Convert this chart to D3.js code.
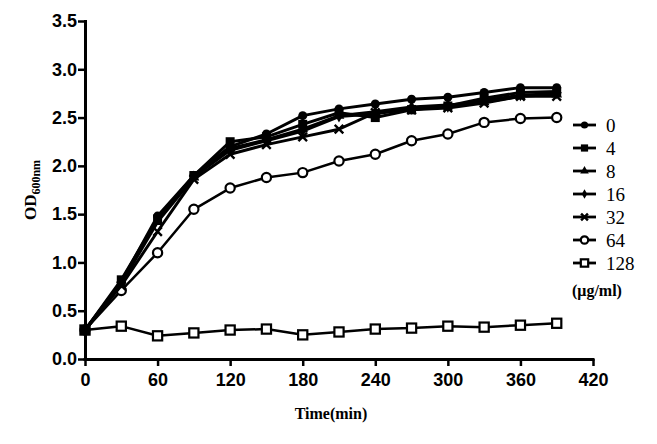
<!DOCTYPE html>
<html><head><meta charset="utf-8">
<script src="https://cdn.jsdelivr.net/npm/d3@7"></script>
<style>body{margin:0;background:#fff}</style>
</head><body>
<svg id="c" width="657" height="444"></svg>
<script>
const times = [0,30,60,90,120,150,180,210,240,270,300,330,360,390];
const concentrations = ["0","4","8","16","32","64","128"];
const s0   = [0.30,0.80,1.48,1.90,2.20,2.33,2.52,2.59,2.64,2.69,2.71,2.76,2.81,2.81];
const s4   = [0.30,0.82,1.45,1.90,2.25,2.30,2.43,2.55,2.50,2.58,2.62,2.70,2.76,2.77];
const s8   = [0.30,0.78,1.42,1.88,2.18,2.27,2.38,2.52,2.56,2.61,2.63,2.66,2.72,2.74];
const s16  = [0.30,0.79,1.45,1.89,2.16,2.26,2.36,2.51,2.54,2.59,2.61,2.68,2.73,2.75];
const s32  = [0.30,0.76,1.32,1.86,2.12,2.22,2.30,2.38,2.55,2.58,2.60,2.65,2.72,2.72];
const s64  = [0.30,0.71,1.10,1.55,1.77,1.88,1.93,2.05,2.12,2.26,2.33,2.45,2.49,2.50];
const s128 = [0.30,0.34,0.24,0.27,0.30,0.31,0.25,0.28,0.31,0.32,0.34,0.33,0.35,0.37];
const xTicks = [0,60,120,180,240,300,360,420];
const yTicks = [0.0,0.5,1.0,1.5,2.0,2.5,3.0,3.5];

const series = [s0,s4,s8,s16,s32,s64,s128];
const markers = ["fcircle","fsquare","ftriangle","fdiamond","cross","ocircle","osquare"];

const svg = d3.select("#c");
const x = d3.scaleLinear().domain([0,420]).range([85,593]);
const y = d3.scaleLinear().domain([0,3.5]).range([359,21]);

function drawMarker(g, type, cx, cy, s) {
  s = s || 1;
  if (type==="fcircle") g.append("circle").attr("cx",cx).attr("cy",cy).attr("r",4.5*s).attr("fill","#000");
  else if (type==="fsquare") g.append("rect").attr("x",cx-4.5*s).attr("y",cy-4.5*s).attr("width",9*s).attr("height",9*s).attr("fill","#000");
  else if (type==="ftriangle") g.append("path").attr("d",d3.symbol(d3.symbolTriangle, 50*s*s)()).attr("transform",`translate(${cx},${cy})`).attr("fill","#000");
  else if (type==="fdiamond") g.append("path").attr("d",d3.symbol(d3.symbolDiamond, 40*s*s)()).attr("transform",`translate(${cx},${cy})`).attr("fill","#000");
  else if (type==="cross") g.append("path").attr("d",d3.symbol(d3.symbolX, 50*s*s)()).attr("transform",`translate(${cx},${cy})`).attr("fill","none").attr("stroke","#000").attr("stroke-width",2.4);
  else if (type==="ocircle") g.append("circle").attr("cx",cx).attr("cy",cy).attr("r",4.6*s).attr("fill","#fff").attr("stroke","#000").attr("stroke-width",2.2);
  else if (type==="osquare") g.append("rect").attr("x",cx-4.6*s).attr("y",cy-4.6*s).attr("width",9.2*s).attr("height",9.2*s).attr("fill","#fff").attr("stroke","#000").attr("stroke-width",2.2);
}

const line = d3.line().x((d,i)=>x(times[i])).y(d=>y(d));
const order = [6,5,4,3,2,1,0];
order.forEach(k=>{
  const g = svg.append("g");
  g.append("path").datum(series[k]).attr("d",line).attr("fill","none")
    .attr("stroke","#000").attr("stroke-width", k>=5 ? 2.5 : 3).attr("stroke-linejoin","round");
  series[k].forEach((v,i)=>drawMarker(g, markers[k], x(times[i]), y(v)));
});

// axes
const ax = svg.append("g").attr("transform","translate(0,359)")
  .call(d3.axisBottom(x).tickValues(xTicks).tickSize(7).tickSizeOuter(0).tickFormat(d3.format("d")));
ax.select(".domain").attr("stroke-width",3).attr("d","M83.5,0.5H594.5");
ax.selectAll(".tick line").attr("stroke-width",2.5);
ax.selectAll(".tick text").attr("font-family","Liberation Sans, Arial, sans-serif").attr("font-weight","bold")
  .attr("font-size",18).attr("fill","#000").attr("dy","0.95em");

const ay = svg.append("g").attr("transform","translate(85,0)")
  .call(d3.axisLeft(y).tickValues(yTicks).tickSize(7).tickSizeOuter(0).tickFormat(d3.format(".1f")));
ay.select(".domain").attr("stroke-width",3).attr("d","M0.5,20H0.5V360.5");
ay.selectAll(".tick line").attr("stroke-width",2.5);
ay.selectAll(".tick text").attr("font-family","Liberation Sans, Arial, sans-serif").attr("font-weight","bold")
  .attr("font-size",18).attr("fill","#000").attr("x",-8);

// axis titles
svg.append("text").attr("x",331).attr("y",419).attr("text-anchor","middle")
  .attr("font-family","Liberation Serif, Times New Roman, serif").attr("font-weight","bold").attr("font-size",16)
  .text("Time(min)");
const yt = svg.append("text").attr("transform","translate(36,190) rotate(-90)").attr("text-anchor","middle")
  .attr("font-family","Liberation Serif, Times New Roman, serif").attr("font-weight","bold").attr("font-size",17);
yt.append("tspan").text("OD");
yt.append("tspan").attr("font-size",12).attr("dy",4).text("600nm");

// legend
const lg = svg.append("g");
concentrations.forEach((c,i)=>{
  const ly = 125 + i*23;
  lg.append("line").attr("x1",573).attr("x2",596).attr("y1",ly).attr("y2",ly).attr("stroke","#000").attr("stroke-width",2.8);
  drawMarker(lg, markers[i], 584.5, ly, 0.8);
  lg.append("text").attr("x",606).attr("y",ly).attr("dy","0.35em")
    .attr("font-family","Liberation Serif, Times New Roman, serif").attr("font-size",19).text(c);
});
lg.append("text").attr("x",572).attr("y",125+7*23+4).attr("dy","0.35em")
  .attr("font-family","Liberation Serif, Times New Roman, serif").attr("font-weight","bold").attr("font-size",16).text("(μg/ml)");
</script>
</body></html>
